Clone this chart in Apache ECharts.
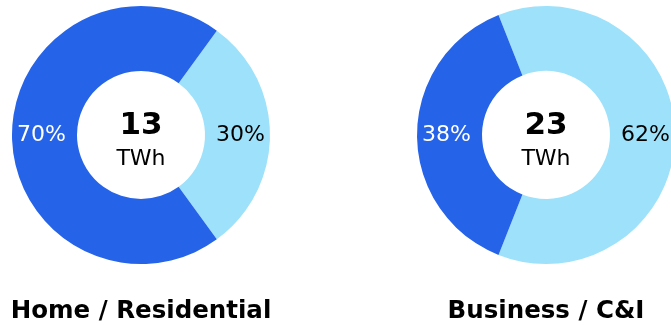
<!DOCTYPE html>
<html><head><meta charset="utf-8">
<script src="https://cdn.jsdelivr.net/npm/echarts@6/dist/echarts.min.js"></script>
<style>html,body{margin:0;padding:0;background:#fff}#c{width:671px;height:325px}</style>
</head><body><div id="c"></div>
<script>
const charts = ['Home / Residential', 'Business / C&I'];
const totals = [13, 23];
const unit = 'TWh';
const sliceNames = ['Other', 'Main'];
const lightShares = [30, 62];
const darkShares = [70, 38];
const centersX = [141, 546];
const LIGHT = '#9ee1fb', DARK = '#2563e8';
const FONT = 'DejaVu Sans';

const series = charts.map((name, i) => ({
  type: 'pie',
  center: [centersX[i], 135],
  radius: [64, 129],
  startAngle: lightShares[i] * 1.8,
  clockwise: true,
  silent: true,
  animation: false,
  label: {
    show: true, position: 'inside', fontFamily: FONT, fontSize: 22,
    padding: [3, 0, 0, 0],
    formatter: p => p.value + '%'
  },
  labelLine: { show: false },
  data: [
    { name: sliceNames[0], value: lightShares[i], itemStyle: { color: LIGHT }, label: { color: '#000' } },
    { name: sliceNames[1], value: darkShares[i], itemStyle: { color: DARK }, label: { color: '#fff' } }
  ]
}));

const titles = [];
charts.forEach((name, i) => {
  titles.push({ text: String(totals[i]), left: centersX[i], top: 110, textAlign: 'center',
    textStyle: { fontFamily: FONT, fontWeight: 'bold', fontSize: 31, color: '#000' } });
  titles.push({ text: unit, left: centersX[i], top: 148, textAlign: 'center',
    textStyle: { fontFamily: FONT, fontWeight: 'normal', fontSize: 22, color: '#000' } });
  titles.push({ text: name, left: centersX[i], top: 299, textAlign: 'center',
    textStyle: { fontFamily: FONT, fontWeight: 'bold', fontSize: 24.5, color: '#000' } });
});
titles.forEach(t => { t.padding = 0; });

const chart = echarts.init(document.getElementById('c'), null, { renderer: 'canvas' });
chart.setOption({ animation: false, title: titles, series });
</script></body></html>
